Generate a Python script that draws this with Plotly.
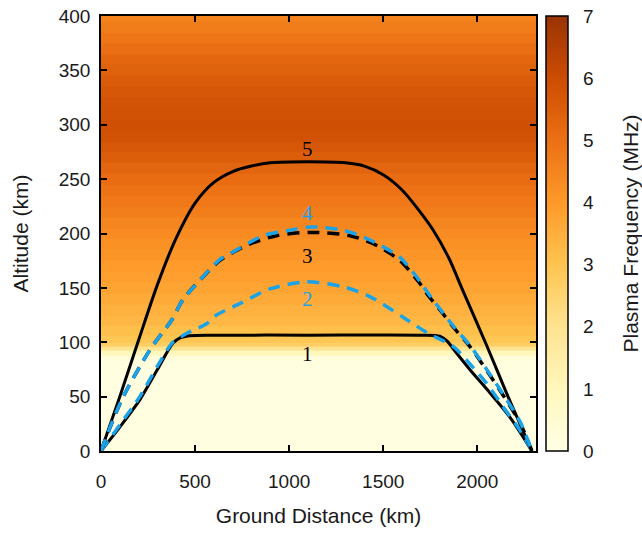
import plotly.graph_objects as go

# ---------------- data ----------------
# background: plasma frequency (MHz) vs altitude (km), horizontally uniform
alt_grid = [0, 10, 20, 30, 40, 50, 60, 70, 80, 86, 90, 94, 98, 102, 110, 120, 130, 140, 150,
            160, 170, 180, 190, 200, 210, 220, 230, 240, 250, 260, 270, 280, 290, 300,
            310, 320, 330, 340, 350, 360, 370, 380, 390, 400]
fp_profile = [0.1, 0.1, 0.1, 0.1, 0.1, 0.1, 0.1, 0.1, 0.15, 0.3, 1.0, 2.0, 2.7, 2.95, 3.1, 3.3,
              3.45, 3.6, 3.75, 3.85, 3.95, 4.1, 4.2, 4.35, 4.5, 4.65, 4.8, 4.95, 5.1, 5.3, 5.5,
              5.7, 5.85, 5.9, 5.85, 5.8, 5.7, 5.55, 5.4, 5.25, 5.05, 4.85, 4.7, 4.55]
dist_grid = [0, 2312]

# ray paths (ground distance km, altitude km)
ray1_x = [0, 100, 206, 300, 382, 420, 470, 600, 1100, 1700, 1801, 1840, 1872, 1960, 2050, 2174, 2290]
ray1_y = [0, 22, 47, 75, 99, 104, 106, 106.5, 106.5, 106.5, 105.5, 101, 94, 75, 57, 31, 0]

ray2_x = [0, 100, 206, 300, 382, 454, 561, 614, 738, 897, 1092, 1287, 1429, 1606, 1731, 1873, 1961, 2050, 2138, 2227, 2290]
ray2_y = [0, 24, 50, 78, 100, 108, 117, 125, 135.5, 149, 155.5, 151, 142, 123, 109, 96, 80, 62, 40.5, 19, 0]

ray3_x = [0, 110, 260, 374, 435, 525, 631, 773, 933, 1110, 1323, 1465, 1589, 1695, 1739, 1819, 1872, 1961, 2050, 2138, 2227, 2290]
ray3_y = [0, 47, 93, 120, 139, 157, 175, 189, 198, 201, 198, 189, 175, 154, 143, 126, 114, 96, 74, 51, 26, 0]

ray4_x = [0, 110, 260, 374, 435, 525, 631, 702, 862, 1004, 1115, 1287, 1429, 1589, 1695, 1739, 1872, 1961, 2050, 2138, 2227, 2290]
ray4_y = [0, 47, 93, 120, 139, 157, 176, 183, 198, 203, 206, 203, 194, 178, 156, 145, 115, 97, 75, 52, 27, 0]

ray5_x = [0, 100, 200, 300, 400, 500, 600, 700, 800, 900, 1100, 1300, 1400, 1500, 1600, 1700, 1766, 1850, 1917, 2050, 2156, 2290]
ray5_y = [0, 50, 102, 153, 196, 228, 247, 257, 262, 265, 266, 265, 262, 254, 240, 219, 203, 177, 150, 97, 53, 0]

label_text = ["1", "2", "3", "4", "5"]
label_x = [1100, 1100, 1100, 1100, 1100]
label_y = [89, 140, 179, 219, 278]
label_color = ["black", "#1aa3e8", "black", "#1aa3e8", "black"]

x_ticks = [0, 500, 1000, 1500, 2000]
y_ticks = [0, 50, 100, 150, 200, 250, 300, 350, 400]
cb_ticks = [0, 1, 2, 3, 4, 5, 6, 7]

# ---------------- figure ----------------
BLUE = "#1aa3e8"
SANS = "Liberation Sans, Arial"
TXT = "#1a1a1a"
colorscale = [
    [0 / 7, "#ffffe5"], [1 / 7, "#fff7bc"], [2 / 7, "#fee391"], [3 / 7, "#fec44f"],
    [4 / 7, "#fe9929"], [5 / 7, "#ec7014"], [6 / 7, "#cc4c02"], [7 / 7, "#993404"],
]

z = [[v, v] for v in fp_profile]

PLOT_W = 435.0
CB_X = 1.023  # colorbar left edge in paper units

fig = go.Figure()
fig.add_trace(go.Heatmap(
    x=dist_grid, y=alt_grid, z=z, zmin=0, zmax=7, colorscale=colorscale,
    showscale=True, hoverinfo="skip",
    colorbar=dict(
        x=CB_X, xanchor="left", xpad=0, y=0.5, yanchor="middle", len=1.0, ypad=0,
        thickness=22, outlinewidth=1.5, outlinecolor="black",
        tickvals=cb_ticks, ticks="outside", ticklen=11, tickcolor="rgba(0,0,0,0)",
        tickfont=dict(family=SANS, size=19, color=TXT),
    ),
))

def add_ray(xs, ys, color, dash, width):
    fig.add_trace(go.Scatter(x=xs, y=ys, mode="lines",
                             line=dict(color=color, dash=dash, width=width, shape="spline", smoothing=0.8),
                             showlegend=False, hoverinfo="skip"))

add_ray(ray1_x, ray1_y, "black", "solid", 3)
add_ray(ray5_x, ray5_y, "black", "solid", 3)
add_ray(ray2_x, ray2_y, BLUE, "12px,8px", 3.5)
add_ray(ray3_x, ray3_y, "black", "12px,8px", 3.5)
add_ray(ray4_x, ray4_y, BLUE, "12px,8px", 3.5)

for t, xx, yy, c in zip(label_text, label_x, label_y, label_color):
    fig.add_annotation(x=xx, y=yy, text=t, showarrow=False,
                       font=dict(family="Liberation Serif, Times New Roman", size=21, color=c))

# colorbar title (rotated)
fig.add_annotation(xref="paper", yref="paper", x=(630 - 101) / PLOT_W, y=0.5,
                   text="Plasma Frequency (MHz)", textangle=-90, showarrow=False,
                   xanchor="center", yanchor="middle",
                   font=dict(family=SANS, size=21, color=TXT))

# colorbar ticks on the left inner edge
for v in cb_ticks[1:-1]:
    fig.add_shape(type="line", xref="paper", yref="paper",
                  x0=CB_X, x1=CB_X + 5 / PLOT_W, y0=v / 7, y1=v / 7,
                  line=dict(color="black", width=1.5))

axis_common = dict(showline=True, linecolor="black", linewidth=1.5, mirror="allticks",
                   ticks="inside", ticklen=6, tickwidth=1.5, tickcolor="black",
                   showgrid=False, zeroline=False,
                   tickfont=dict(family=SANS, size=19, color=TXT))

fig.update_layout(
    width=642, height=534,
    margin=dict(l=101, r=106, t=16, b=83, autoexpand=False),
    paper_bgcolor="white", plot_bgcolor="white",
    showlegend=False,
    xaxis=dict(range=[0, 2312], tickvals=x_ticks, ticklabelstandoff=12,
               title=dict(text="Ground Distance (km)", standoff=18,
                          font=dict(family=SANS, size=21, color=TXT)),
               **axis_common),
    yaxis=dict(range=[0, 400], tickvals=y_ticks, ticklabelstandoff=5,
               title=dict(text="Altitude (km)", standoff=24,
                          font=dict(family=SANS, size=21, color=TXT)),
               **axis_common),
)

fig.write_html("out.html", config={"displayModeBar": False},
               post_script="document.body.style.margin='0';document.body.style.padding='0';")
